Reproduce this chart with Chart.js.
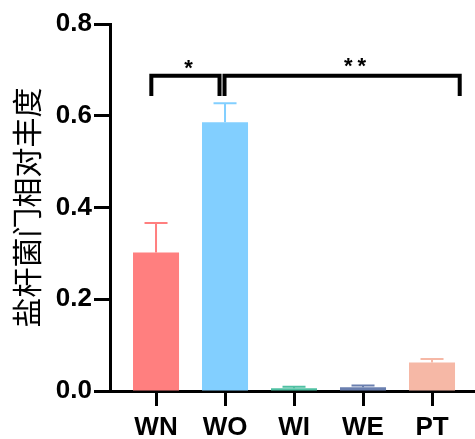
<!DOCTYPE html>
<html>
<head>
<meta charset="utf-8">
<script src="https://cdn.jsdelivr.net/npm/chart.js@4"></script>
<style>
html,body{margin:0;padding:0;background:#fff;}
canvas{display:block;}
</style>
</head>
<body>
<canvas id="c" width="475" height="439"></canvas>
<script>
// ---- data ----
const categories = ['WN', 'WO', 'WI', 'WE', 'PT'];
const means = [0.302, 0.586, 0.006, 0.008, 0.062];
const errUpper = [0.366, 0.627, 0.009, 0.012, 0.070];
const barColors = ['#FF7F7F', '#82CFFF', '#4FC0A2', '#6A7FAF', '#F6B8A6'];
const yTicks = [0, 0.2, 0.4, 0.6, 0.8];
const yTitle = '盐杆菌门相对丰度';
const comparisons = [
  {from: 'WN', to: 'WO', label: '*'},
  {from: 'WO', to: 'PT', label: '**'}
];
const bracketLevel = 0.687;
const bracketDrop = 0.643;

const latin = "'Liberation Sans', Arial, sans-serif";
const cjk = "'Noto Sans CJK SC', sans-serif";

const errorBarPlugin = {
  id: 'errorBars',
  afterDatasetsDraw(chart) {
    const ctx = chart.ctx;
    const xs = chart.scales.x, ys = chart.scales.y;
    ctx.save();
    means.forEach((m, i) => {
      const x = xs.getPixelForValue(i);
      const y0 = ys.getPixelForValue(m);
      const y1 = ys.getPixelForValue(errUpper[i]);
      ctx.strokeStyle = barColors[i];
      ctx.lineWidth = 2;
      ctx.beginPath();
      ctx.moveTo(x, y0);
      ctx.lineTo(x, y1);
      ctx.moveTo(x - 11.5, y1);
      ctx.lineTo(x + 11.5, y1);
      ctx.stroke();
    });
    ctx.restore();
  }
};

const bracketPlugin = {
  id: 'brackets',
  afterDraw(chart) {
    const ctx = chart.ctx;
    const xs = chart.scales.x, ys = chart.scales.y;
    const yTop = ys.getPixelForValue(bracketLevel);
    const yBot = ys.getPixelForValue(bracketDrop);
    const offs = [[-4.7, -5.5], [-0.5, 27.7]];
    const labelShift = [3, 13];
    ctx.save();
    ctx.strokeStyle = '#000';
    ctx.lineWidth = 4;
    ctx.lineJoin = 'miter';
    comparisons.forEach((c, k) => {
      const xa = xs.getPixelForValue(categories.indexOf(c.from)) + offs[k][0];
      const xb = xs.getPixelForValue(categories.indexOf(c.to)) + offs[k][1];
      ctx.beginPath();
      ctx.moveTo(xa, yBot);
      ctx.lineTo(xa, yTop);
      ctx.lineTo(xb, yTop);
      ctx.lineTo(xb, yBot);
      ctx.stroke();
      ctx.fillStyle = '#000';
      ctx.font = 'bold 22px ' + latin;
      ctx.textBaseline = 'alphabetic';
      const multi = c.label.length > 1;
      ctx.letterSpacing = multi ? '5px' : '0px';
      const w = ctx.measureText(c.label).width;
      const mid = (xa + xb) / 2 + labelShift[k];
      ctx.textAlign = 'left';
      ctx.fillText(c.label, mid - w / 2 + (multi ? 2.5 : 0), yTop - (multi ? 3 : 1));
    });
    ctx.restore();
  }
};

new Chart(document.getElementById('c'), {
  type: 'bar',
  data: {
    datasets: [{
      data: means.map((v, i) => ({x: i, y: v})),
      backgroundColor: barColors,
      borderWidth: 0,
      barPercentage: 1,
      categoryPercentage: 0.667
    }]
  },
  options: {
    responsive: false,
    animation: false,
    devicePixelRatio: 1,
    layout: {padding: {top: 24, right: 0, bottom: 0, left: 0}},
    plugins: {legend: {display: false}, tooltip: {enabled: false}},
    scales: {
      x: {
        type: 'linear',
        offset: false,
        min: -0.667,
        max: 4.623,
        z: 1,
        afterBuildTicks(scale) { scale.ticks = categories.map((c, i) => ({value: i})); },
        afterFit(scale) { scale.height = 48; },
        ticks: {
          callback: (v) => categories[v],
          font: {family: latin, size: 26, weight: 'bold'},
          color: '#000',
          padding: 6,
          maxRotation: 0,
          autoSkip: false
        },
        grid: {offset: false, drawOnChartArea: false, tickLength: 15, tickWidth: 3, tickColor: '#000'},
        border: {display: true, color: '#000', width: 3}
      },
      y: {
        min: 0,
        max: 0.8,
        z: 1,
        afterBuildTicks(scale) { scale.ticks = yTicks.map(v => ({value: v})); },
        afterFit(scale) { scale.width = 110; },
        ticks: {
          callback: (v) => v.toFixed(1),
          font: {family: latin, size: 26, weight: 'bold'},
          color: '#000',
          padding: 2
        },
        grid: {drawOnChartArea: false, tickLength: 16, tickWidth: 3, tickColor: '#000'},
        border: {display: true, color: '#000', width: 3},
        title: {
          display: true,
          text: yTitle,
          font: {family: cjk, size: 30, weight: 'normal'},
          color: '#000',
          padding: {top: 9, bottom: 0}
        }
      }
    }
  },
  plugins: [errorBarPlugin, bracketPlugin]
});
</script>
</body>
</html>
